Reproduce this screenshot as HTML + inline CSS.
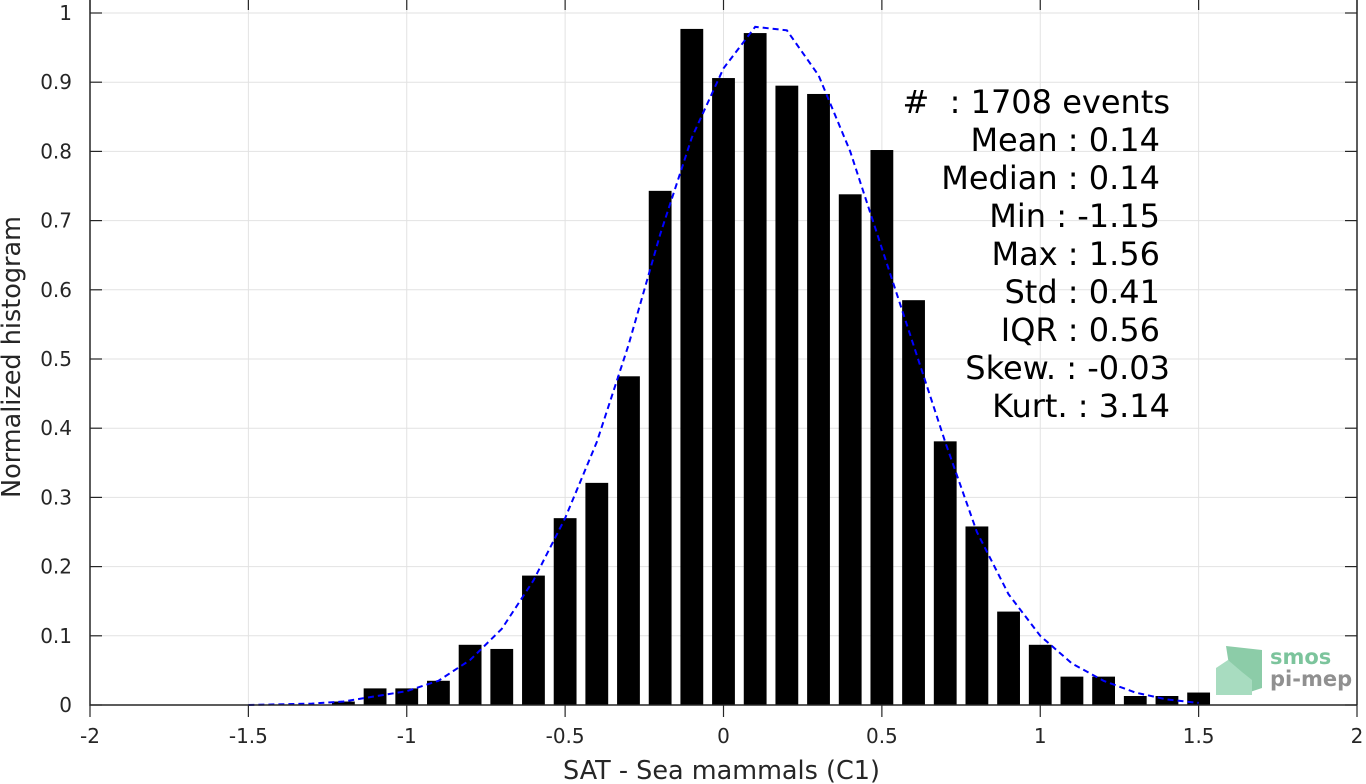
<!DOCTYPE html>
<html><head><meta charset="utf-8"><style>
body{margin:0;background:#fff;width:1366px;height:784px;overflow:hidden;font-family:"DejaVu Sans","Liberation Sans",sans-serif}
svg{display:block}
text{white-space:pre}
</style></head><body>
<svg id="chart" width="1366" height="784" xmlns="http://www.w3.org/2000/svg"></svg>
<script>
const binCenters=[-1.2,-1.1,-1.0,-0.9,-0.8,-0.7,-0.6,-0.5,-0.4,-0.3,-0.2,-0.1,0,0.1,0.2,0.3,0.4,0.5,0.6,0.7,0.8,0.9,1.0,1.1,1.2,1.3,1.4,1.5];
const binValues=[0.005,0.024,0.024,0.035,0.087,0.081,0.187,0.27,0.321,0.475,0.743,0.977,0.906,0.971,0.895,0.883,0.738,0.802,0.585,0.381,0.258,0.135,0.087,0.041,0.041,0.013,0.013,0.018];
const fitX=[-1.5,-1.3,-1.2,-1.0,-0.9,-0.8,-0.7,-0.6,-0.5,-0.4,-0.3,-0.2,-0.1,0,0.1,0.2,0.3,0.4,0.5,0.6,0.7,0.8,0.9,1.0,1.1,1.2,1.3,1.4,1.5];
const fitY=[0,0.002,0.005,0.02,0.035,0.065,0.11,0.18,0.27,0.38,0.52,0.68,0.82,0.92,0.98,0.975,0.91,0.80,0.66,0.52,0.38,0.25,0.16,0.10,0.06,0.035,0.018,0.008,0.003];
const xTicks=[-2,-1.5,-1,-0.5,0,0.5,1,1.5,2];
const xTickLabels=["-2","-1.5","-1","-0.5","0","0.5","1","1.5","2"];
const yTicks=[0,0.1,0.2,0.3,0.4,0.5,0.6,0.7,0.8,0.9,1];
const yTickLabels=["0","0.1","0.2","0.3","0.4","0.5","0.6","0.7","0.8","0.9","1"];
const statLines=["#  : 1708 events","Mean : 0.14","Median : 0.14","Min : -1.15","Max : 1.56","Std : 0.41","IQR : 0.56","Skew. : -0.03","Kurt. : 3.14"];
const statRight=[1170,1160,1160,1160,1160,1160,1160,1170,1170];

const L=90,R=1357,T=13,B=705;
const xs=v=>L+(v+2)/4*(R-L);
const ys=v=>B-v*(B-T);
const svg=document.getElementById('chart');
const NS='http://www.w3.org/2000/svg';
function mk(tag,attrs,parent){const e=document.createElementNS(NS,tag);for(const k in attrs)e.setAttribute(k,attrs[k]);(parent||svg).appendChild(e);return e;}

xTicks.forEach((t,i)=>{
  const g=mk('line',{x1:xs(t),x2:xs(t),y1:0,y2:B,stroke:'#e2e2e2','stroke-width':1});
  
  
});
yTicks.forEach((t,i)=>{
  const g=mk('line',{x1:L,x2:R,y1:ys(t),y2:ys(t),stroke:'#e2e2e2','stroke-width':1});
  
  
});
const bw=0.072*(R-L)/4;
binCenters.forEach((c,i)=>{
  const b=mk('rect',{x:xs(c)-bw/2,y:ys(binValues[i]),width:bw,height:B-ys(binValues[i]),fill:'#000'});
  
  
});
const p=mk('polyline',{points:fitX.map((x,i)=>xs(x)+','+ys(fitY[i])).join(' '),fill:'none',stroke:'#0000ff','stroke-width':2,'stroke-dasharray':'6,4'});


const ax=mk('path',{d:`M${L},0 V${B} H${R} M${R},0 V${B}`,stroke:'#262626','stroke-width':1.5,fill:'none'});


xTicks.forEach((t,i)=>{
  mk('line',{x1:xs(t),x2:xs(t),y1:B,y2:B+12,stroke:'#262626','stroke-width':1.2});
  mk('line',{x1:xs(t),x2:xs(t),y1:0,y2:10,stroke:'#262626','stroke-width':1.2});
  const tx=mk('text',{x:xs(t),y:B+38,'text-anchor':'middle','font-size':20,fill:'#262626'});
  tx.textContent=xTickLabels[i];
  
  
});
yTicks.forEach((t,i)=>{
  mk('line',{x1:L,x2:L+12,y1:ys(t),y2:ys(t),stroke:'#262626','stroke-width':1.2});
  mk('line',{x1:R-12,x2:R,y1:ys(t),y2:ys(t),stroke:'#262626','stroke-width':1.2});
  const tx=mk('text',{x:L-18,y:ys(t)+7,'text-anchor':'end','font-size':20,fill:'#262626'});
  tx.textContent=yTickLabels[i];
  
  
});
const xt=mk('text',{x:xs(0)-2,y:779,'text-anchor':'middle','font-size':25.5,fill:'#262626'});
xt.textContent='SAT - Sea mammals (C1)';


const yt=mk('text',{x:0,y:0,'text-anchor':'middle','font-size':25.5,fill:'#262626',transform:`translate(20,${(B+T)/2-2}) rotate(-90)`});
yt.textContent='Normalized histogram';


statLines.forEach((s,i)=>{
  const tx=mk('text',{x:statRight[i],y:113+i*38,'text-anchor':'end','font-size':32,fill:'#000'});
  tx.textContent=s;
  
  
});
const lg=mk('g',{});


mk('path',{d:'M1226,646 L1262,650 L1262,688 L1250,692 L1232,684 Z',fill:'#8ccca8'},lg);
mk('path',{d:'M1216,668 L1228,660 L1242,672 L1252,680 L1252,695 L1216,695 Z',fill:'#a8dcc0'},lg);
const s1=mk('text',{x:1270,y:664,'font-size':21,fill:'#7cc49c','font-weight':'bold'},lg);s1.textContent='smos';
const s2=mk('text',{x:1270,y:686,'font-size':21,fill:'#909090','font-weight':'bold'},lg);s2.textContent='pi-mep';
</script>
</body></html>
